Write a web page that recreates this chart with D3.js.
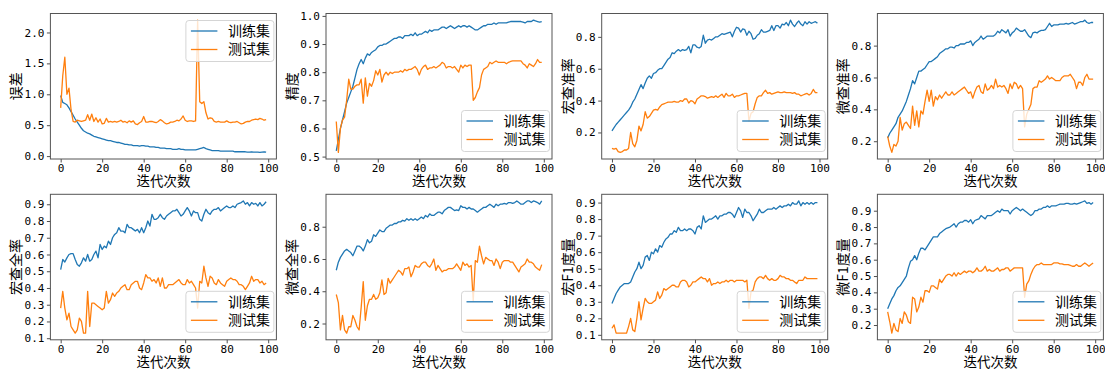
<!DOCTYPE html>
<html>
<head>
<meta charset="utf-8">
<script src="https://cdn.jsdelivr.net/npm/d3@7"></script>
<style>
  body { margin: 0; background: #fff; }
  svg { display: block; }
</style>
</head>
<body>
<div id="chart"></div>
<script>
// epochs 0..99
const epochs = d3.range(100);

const xTicks = [0, 20, 40, 60, 80, 100];
const seriesNames = ["训练集", "测试集"];
const xLabel = "迭代次数";

// 误差
const trainLoss = [0.98,0.87,0.85,0.83,0.78,0.72,0.66,0.60,0.55,0.50,0.45,0.41,0.39,0.37,0.36,0.34,0.32,0.31,0.30,0.29,
  0.28,0.27,0.26,0.25,0.25,0.24,0.23,0.22,0.22,0.21,0.20,0.19,0.19,0.18,0.18,0.17,0.17,0.17,0.16,0.17,
  0.17,0.16,0.16,0.15,0.15,0.15,0.14,0.14,0.13,0.13,0.13,0.12,0.12,0.12,0.11,0.11,0.11,0.12,0.11,0.11,
  0.10,0.10,0.10,0.10,0.10,0.10,0.11,0.12,0.13,0.14,0.12,0.11,0.10,0.09,0.09,0.09,0.09,0.08,0.08,0.08,
  0.08,0.08,0.08,0.08,0.07,0.07,0.07,0.07,0.07,0.07,0.065,0.065,0.07,0.065,0.065,0.065,0.06,0.065,0.07,0.065];
const testLoss = [0.78,1.30,1.60,1.00,1.10,0.75,0.56,0.55,0.58,0.57,0.56,0.57,0.58,0.67,0.58,0.68,0.56,0.62,0.55,0.60,
  0.52,0.53,0.61,0.55,0.56,0.55,0.56,0.55,0.56,0.58,0.55,0.56,0.54,0.57,0.55,0.57,0.52,0.51,0.54,0.56,
  0.64,0.55,0.55,0.56,0.56,0.55,0.54,0.56,0.59,0.57,0.54,0.52,0.53,0.55,0.55,0.56,0.58,0.57,0.60,0.65,
  0.58,0.56,0.57,0.57,0.56,0.57,2.20,0.88,0.85,0.88,0.70,0.60,0.62,0.61,0.56,0.55,0.56,0.55,0.55,0.55,
  0.57,0.55,0.54,0.55,0.55,0.56,0.54,0.52,0.53,0.55,0.56,0.56,0.58,0.59,0.60,0.59,0.61,0.60,0.58,0.59];

// 精度
const trainAcc = [0.52,0.56,0.60,0.63,0.66,0.69,0.71,0.73,0.75,0.78,0.81,0.83,0.845,0.83,0.85,0.865,0.86,0.87,0.875,0.88,
  0.89,0.895,0.895,0.90,0.90,0.905,0.91,0.915,0.92,0.92,0.925,0.925,0.92,0.93,0.93,0.93,0.935,0.93,0.94,0.93,
  0.935,0.935,0.94,0.945,0.94,0.95,0.945,0.95,0.95,0.95,0.955,0.96,0.96,0.955,0.96,0.965,0.96,0.955,0.96,0.965,
  0.96,0.965,0.965,0.96,0.965,0.96,0.955,0.95,0.95,0.955,0.96,0.965,0.965,0.97,0.97,0.97,0.975,0.97,0.975,0.975,
  0.975,0.975,0.975,0.978,0.98,0.98,0.98,0.98,0.98,0.98,0.978,0.975,0.98,0.98,0.98,0.985,0.982,0.98,0.978,0.98];
const testAcc = [0.625,0.515,0.60,0.63,0.64,0.70,0.775,0.74,0.74,0.75,0.755,0.755,0.775,0.69,0.78,0.715,0.76,0.75,0.77,0.805,
  0.79,0.81,0.765,0.79,0.80,0.79,0.80,0.795,0.80,0.80,0.80,0.805,0.80,0.81,0.805,0.81,0.81,0.815,0.82,0.81,
  0.79,0.81,0.82,0.825,0.81,0.815,0.815,0.82,0.815,0.82,0.825,0.835,0.83,0.815,0.82,0.82,0.815,0.82,0.81,0.80,
  0.825,0.815,0.825,0.82,0.825,0.825,0.70,0.71,0.73,0.745,0.79,0.81,0.815,0.82,0.835,0.83,0.835,0.84,0.835,0.835,
  0.835,0.835,0.83,0.835,0.838,0.84,0.84,0.84,0.84,0.84,0.83,0.825,0.815,0.83,0.825,0.82,0.83,0.845,0.835,0.835];

// 宏查准率
const trainMacroP = [0.21,0.23,0.25,0.265,0.28,0.295,0.31,0.325,0.34,0.36,0.39,0.41,0.44,0.47,0.50,0.475,0.51,0.54,0.555,0.54,
  0.57,0.575,0.59,0.60,0.60,0.62,0.64,0.66,0.67,0.70,0.695,0.71,0.72,0.71,0.72,0.715,0.72,0.74,0.70,0.75,
  0.75,0.735,0.73,0.74,0.81,0.76,0.78,0.785,0.78,0.79,0.80,0.80,0.81,0.82,0.815,0.82,0.825,0.83,0.80,0.835,
  0.86,0.855,0.83,0.85,0.845,0.81,0.835,0.82,0.785,0.79,0.81,0.82,0.845,0.83,0.83,0.835,0.84,0.87,0.84,0.87,
  0.87,0.855,0.88,0.875,0.89,0.87,0.905,0.88,0.865,0.885,0.90,0.88,0.87,0.895,0.88,0.895,0.885,0.89,0.895,0.886];
const testMacroP = [0.10,0.095,0.10,0.08,0.075,0.08,0.09,0.09,0.10,0.20,0.13,0.11,0.15,0.24,0.21,0.25,0.33,0.29,0.30,0.32,
  0.34,0.345,0.34,0.36,0.375,0.38,0.385,0.39,0.39,0.39,0.395,0.39,0.39,0.40,0.395,0.41,0.41,0.385,0.40,0.395,
  0.38,0.41,0.42,0.43,0.43,0.425,0.415,0.42,0.425,0.42,0.43,0.42,0.43,0.44,0.42,0.445,0.43,0.43,0.44,0.42,
  0.43,0.43,0.435,0.44,0.445,0.445,0.27,0.32,0.33,0.38,0.42,0.43,0.43,0.45,0.465,0.445,0.45,0.44,0.445,0.45,
  0.455,0.45,0.45,0.455,0.45,0.45,0.45,0.445,0.45,0.44,0.44,0.43,0.435,0.44,0.445,0.435,0.445,0.47,0.45,0.45];

// 微查准率
const trainMicroP = [0.22,0.25,0.27,0.29,0.31,0.35,0.37,0.39,0.42,0.45,0.49,0.53,0.58,0.56,0.60,0.64,0.64,0.65,0.66,0.68,
  0.70,0.70,0.71,0.72,0.73,0.75,0.76,0.77,0.78,0.78,0.79,0.79,0.785,0.80,0.80,0.81,0.81,0.81,0.82,0.82,
  0.83,0.80,0.82,0.83,0.84,0.86,0.84,0.85,0.86,0.86,0.86,0.86,0.87,0.89,0.88,0.90,0.89,0.88,0.90,0.86,
  0.88,0.89,0.91,0.90,0.89,0.89,0.90,0.88,0.86,0.85,0.88,0.885,0.88,0.89,0.895,0.895,0.90,0.92,0.94,0.92,
  0.93,0.93,0.93,0.935,0.935,0.935,0.94,0.935,0.94,0.945,0.935,0.94,0.945,0.95,0.95,0.96,0.945,0.94,0.945,0.945];
const testMicroP = [0.23,0.17,0.13,0.18,0.17,0.20,0.35,0.27,0.31,0.32,0.30,0.28,0.42,0.30,0.39,0.29,0.39,0.37,0.45,0.52,
  0.45,0.52,0.42,0.48,0.46,0.49,0.47,0.49,0.51,0.49,0.49,0.51,0.49,0.50,0.51,0.52,0.53,0.54,0.52,0.50,
  0.51,0.47,0.51,0.54,0.55,0.51,0.50,0.56,0.52,0.53,0.55,0.53,0.59,0.54,0.55,0.54,0.55,0.53,0.50,0.56,
  0.53,0.57,0.56,0.53,0.55,0.53,0.29,0.37,0.40,0.43,0.53,0.54,0.54,0.58,0.57,0.58,0.59,0.61,0.59,0.60,
  0.59,0.58,0.58,0.58,0.60,0.61,0.61,0.61,0.62,0.60,0.58,0.53,0.57,0.57,0.55,0.60,0.62,0.59,0.59,0.59];

// 宏查全率
const trainMacroR = [0.51,0.57,0.555,0.58,0.60,0.605,0.605,0.57,0.54,0.53,0.55,0.58,0.56,0.60,0.56,0.57,0.60,0.62,0.58,0.66,
  0.63,0.65,0.64,0.68,0.66,0.70,0.72,0.73,0.76,0.74,0.74,0.73,0.78,0.76,0.76,0.75,0.74,0.75,0.73,0.76,
  0.73,0.76,0.80,0.77,0.84,0.81,0.81,0.82,0.84,0.82,0.81,0.83,0.84,0.85,0.86,0.86,0.87,0.85,0.83,0.84,
  0.86,0.88,0.86,0.83,0.86,0.85,0.85,0.81,0.80,0.84,0.87,0.85,0.84,0.86,0.87,0.87,0.88,0.86,0.87,0.88,
  0.89,0.88,0.88,0.89,0.88,0.90,0.905,0.91,0.92,0.90,0.91,0.89,0.91,0.90,0.905,0.89,0.91,0.89,0.90,0.915];
const testMacroR = [0.28,0.38,0.28,0.21,0.25,0.17,0.15,0.13,0.15,0.22,0.20,0.13,0.13,0.38,0.17,0.31,0.31,0.30,0.29,0.28,
  0.27,0.28,0.38,0.31,0.33,0.37,0.35,0.37,0.38,0.40,0.41,0.42,0.39,0.39,0.42,0.43,0.44,0.44,0.40,0.39,
  0.43,0.48,0.46,0.46,0.44,0.45,0.43,0.46,0.41,0.46,0.40,0.40,0.42,0.42,0.42,0.43,0.44,0.45,0.43,0.42,
  0.42,0.45,0.43,0.44,0.42,0.40,0.28,0.44,0.43,0.53,0.46,0.41,0.47,0.46,0.43,0.42,0.45,0.43,0.42,0.41,
  0.44,0.45,0.46,0.45,0.45,0.44,0.42,0.42,0.41,0.39,0.41,0.43,0.47,0.44,0.45,0.45,0.43,0.44,0.42,0.43];

// 微查全率
const trainMicroR = [0.53,0.58,0.61,0.63,0.65,0.66,0.65,0.64,0.62,0.65,0.68,0.68,0.67,0.65,0.68,0.72,0.70,0.71,0.75,0.74,
  0.76,0.78,0.77,0.77,0.79,0.80,0.81,0.81,0.82,0.82,0.83,0.83,0.84,0.835,0.85,0.84,0.85,0.84,0.85,0.84,
  0.85,0.86,0.85,0.87,0.86,0.88,0.87,0.87,0.88,0.89,0.89,0.88,0.90,0.91,0.92,0.92,0.91,0.90,0.905,0.90,
  0.93,0.92,0.92,0.91,0.92,0.91,0.91,0.90,0.89,0.90,0.91,0.92,0.92,0.93,0.94,0.93,0.92,0.94,0.93,0.94,
  0.94,0.945,0.94,0.95,0.95,0.945,0.95,0.96,0.95,0.94,0.94,0.95,0.96,0.96,0.95,0.96,0.955,0.95,0.94,0.96];
const testMicroR = [0.38,0.33,0.16,0.25,0.16,0.14,0.18,0.18,0.25,0.22,0.18,0.16,0.30,0.46,0.22,0.31,0.35,0.35,0.38,0.35,
  0.36,0.39,0.47,0.38,0.39,0.48,0.45,0.47,0.49,0.51,0.53,0.52,0.50,0.54,0.54,0.55,0.49,0.52,0.56,0.55,
  0.55,0.57,0.58,0.58,0.56,0.55,0.57,0.60,0.53,0.56,0.54,0.52,0.53,0.53,0.54,0.54,0.54,0.55,0.57,0.55,
  0.53,0.58,0.56,0.57,0.55,0.56,0.34,0.59,0.58,0.68,0.62,0.57,0.61,0.60,0.59,0.59,0.56,0.60,0.58,0.54,
  0.58,0.59,0.59,0.59,0.58,0.58,0.56,0.54,0.52,0.55,0.56,0.57,0.60,0.58,0.58,0.57,0.55,0.54,0.53,0.565];

// 宏F1度量
const trainMacroF1 = [0.29,0.32,0.35,0.37,0.39,0.40,0.41,0.41,0.41,0.42,0.45,0.48,0.50,0.54,0.50,0.52,0.57,0.58,0.55,0.60,
  0.59,0.62,0.60,0.64,0.63,0.66,0.68,0.69,0.71,0.71,0.73,0.72,0.75,0.73,0.73,0.74,0.73,0.74,0.74,0.73,
  0.71,0.75,0.76,0.74,0.82,0.78,0.79,0.80,0.80,0.81,0.82,0.80,0.82,0.82,0.83,0.83,0.84,0.84,0.83,0.81,
  0.84,0.87,0.85,0.81,0.86,0.84,0.84,0.82,0.79,0.81,0.83,0.86,0.84,0.84,0.85,0.86,0.86,0.86,0.87,0.86,
  0.87,0.88,0.87,0.88,0.88,0.89,0.88,0.90,0.89,0.89,0.91,0.88,0.90,0.89,0.90,0.89,0.90,0.89,0.90,0.90];
const testMacroF1 = [0.14,0.16,0.11,0.11,0.11,0.11,0.11,0.11,0.15,0.20,0.13,0.12,0.20,0.30,0.19,0.26,0.32,0.30,0.29,0.29,
  0.30,0.31,0.36,0.32,0.34,0.38,0.37,0.38,0.39,0.40,0.40,0.39,0.39,0.42,0.43,0.43,0.42,0.39,0.40,0.42,
  0.42,0.43,0.44,0.45,0.44,0.44,0.42,0.44,0.40,0.41,0.41,0.42,0.41,0.42,0.42,0.43,0.42,0.43,0.43,0.42,
  0.43,0.43,0.43,0.43,0.42,0.43,0.26,0.36,0.37,0.42,0.44,0.45,0.45,0.44,0.46,0.44,0.43,0.44,0.43,0.43,
  0.44,0.46,0.45,0.45,0.44,0.44,0.43,0.43,0.42,0.41,0.43,0.43,0.43,0.45,0.44,0.44,0.44,0.44,0.44,0.44];

// 微F1度量
const trainMicroF1 = [0.30,0.33,0.36,0.38,0.41,0.43,0.44,0.46,0.48,0.50,0.55,0.59,0.60,0.625,0.60,0.64,0.67,0.67,0.66,0.68,
  0.70,0.72,0.74,0.74,0.74,0.76,0.77,0.78,0.79,0.795,0.80,0.81,0.82,0.80,0.82,0.83,0.83,0.84,0.84,0.83,
  0.845,0.82,0.84,0.845,0.85,0.87,0.86,0.85,0.87,0.87,0.87,0.88,0.89,0.90,0.89,0.91,0.90,0.90,0.90,0.88,
  0.90,0.91,0.92,0.91,0.90,0.91,0.90,0.89,0.88,0.87,0.88,0.90,0.90,0.91,0.91,0.92,0.92,0.93,0.92,0.93,
  0.93,0.93,0.935,0.94,0.94,0.94,0.945,0.945,0.94,0.94,0.945,0.94,0.945,0.95,0.955,0.96,0.945,0.95,0.94,0.95];
const testMicroF1 = [0.28,0.22,0.15,0.21,0.17,0.16,0.24,0.21,0.28,0.26,0.22,0.21,0.37,0.36,0.28,0.31,0.37,0.34,0.41,0.41,
  0.40,0.44,0.44,0.43,0.42,0.48,0.46,0.48,0.50,0.51,0.51,0.50,0.52,0.50,0.52,0.51,0.52,0.53,0.52,0.53,
  0.53,0.52,0.53,0.55,0.53,0.53,0.54,0.56,0.53,0.54,0.53,0.53,0.54,0.55,0.53,0.54,0.54,0.55,0.55,0.53,
  0.54,0.55,0.55,0.55,0.55,0.55,0.37,0.45,0.47,0.51,0.54,0.56,0.57,0.57,0.58,0.57,0.57,0.57,0.57,0.57,
  0.58,0.58,0.58,0.575,0.575,0.57,0.57,0.57,0.565,0.56,0.56,0.57,0.56,0.56,0.57,0.58,0.57,0.56,0.57,0.58];

// y tick values per panel
const yTicksLoss = [0.0, 0.5, 1.0, 1.5, 2.0];
const yTicksAcc = [0.5, 0.6, 0.7, 0.8, 0.9, 1.0];
const yTicksEven = [0.2, 0.4, 0.6, 0.8];
const yTicksTenth = [0.1, 0.2, 0.3, 0.4, 0.5, 0.6, 0.7, 0.8, 0.9];
const yTicksF1Micro = [0.2, 0.3, 0.4, 0.5, 0.6, 0.7, 0.8, 0.9];

const panels = [
  { label: "误差", train: trainLoss, test: testLoss, ticks: yTicksLoss, legend: "upper" },
  { label: "精度", train: trainAcc, test: testAcc, ticks: yTicksAcc, legend: "lower" },
  { label: "宏查准率", train: trainMacroP, test: testMacroP, ticks: yTicksEven, legend: "lower" },
  { label: "微查准率", train: trainMicroP, test: testMicroP, ticks: yTicksEven, legend: "lower" },
  { label: "宏查全率", train: trainMacroR, test: testMacroR, ticks: yTicksTenth, legend: "lower" },
  { label: "微查全率", train: trainMicroR, test: testMicroR, ticks: yTicksEven, legend: "lower" },
  { label: "宏F1度量", train: trainMacroF1, test: testMacroF1, ticks: yTicksTenth, legend: "lower" },
  { label: "微F1度量", train: trainMicroF1, test: testMicroF1, ticks: yTicksF1Micro, legend: "lower" }
];

const width = 1105, height = 369;
const colLeft = [50.4, 326, 601.7, 877.4];
const rowTop = [13.5, 194.3];
const axW = 226, axH = 145.5;
const colors = ["#1f77b4", "#ff7f0e"];
const cjkFont = "'Noto Sans CJK SC', 'Noto Sans', sans-serif";
const tickFont = "'DejaVu Sans Mono', 'Liberation Mono', monospace";

const svg = d3.select("#chart")
  .append("svg")
  .attr("width", width)
  .attr("height", height);

panels.forEach((p, i) => {
  const left = colLeft[i % 4], top = rowTop[Math.floor(i / 4)];
  const g = svg.append("g");

  const x = d3.scaleLinear().domain([-4.95, 103.95]).range([left, left + axW]);
  const all = p.train.concat(p.test);
  const lo = d3.min(all), hi = d3.max(all), pad = (hi - lo) * 0.05;
  const y = d3.scaleLinear().domain([lo - pad, hi + pad]).range([top + axH, top]);

  // lines
  const line = d3.line().x((d, j) => x(epochs[j])).y(d => y(d));
  [p.train, p.test].forEach((s, k) => {
    g.append("path")
      .attr("d", line(s))
      .attr("fill", "none")
      .attr("stroke", colors[k])
      .attr("stroke-width", 1.3)
      .attr("stroke-linejoin", "round");
  });

  // axes
  const xAxis = g.append("g")
    .attr("transform", `translate(0,${top + axH})`)
    .call(d3.axisBottom(x).tickValues(xTicks).tickFormat(d3.format("d")).tickSize(3.5).tickPadding(1.5));
  const yAxis = g.append("g")
    .attr("transform", `translate(${left},0)`)
    .call(d3.axisLeft(y).tickValues(p.ticks).tickFormat(d3.format(".1f")).tickSize(3.5).tickPadding(2.5));
  [xAxis, yAxis].forEach(a => {
    a.select(".domain").remove();
    a.selectAll(".tick line").attr("stroke", "#222").attr("stroke-width", 0.8);
    a.selectAll(".tick text").attr("fill", "#000").style("font-family", tickFont).style("font-size", "11px");
  });

  // frame
  g.append("rect")
    .attr("x", left).attr("y", top)
    .attr("width", axW).attr("height", axH)
    .attr("fill", "none")
    .attr("stroke", "#555")
    .attr("stroke-width", 1);

  // axis labels
  g.append("text")
    .attr("x", left + axW / 2)
    .attr("y", top + axH + 22.5)
    .attr("dy", "0.35em")
    .attr("text-anchor", "middle")
    .style("font-family", cjkFont).style("font-size", "13.5px")
    .attr("fill", "#000")
    .text(xLabel);

  const bb = yAxis.node().getBBox();
  const ly = top + axH / 2;
  const lx = left + bb.x - 8;
  g.append("text")
    .attr("transform", `translate(${lx},${ly}) rotate(-90)`)
    .attr("dy", "0.35em")
    .attr("text-anchor", "middle")
    .style("font-family", cjkFont).style("font-size", "14px")
    .attr("fill", "#000")
    .text(p.label);

  // legend
  const lw = 88, lh = 41;
  const lxBox = left + axW - 2.5 - lw;
  const lyBox = p.legend === "upper" ? top + 7 : top + axH - 7.5 - lh;
  const lg = g.append("g").attr("transform", `translate(${lxBox},${lyBox})`);
  lg.append("rect")
    .attr("width", lw).attr("height", lh)
    .attr("rx", 3)
    .attr("fill", "#fff").attr("fill-opacity", 0.8)
    .attr("stroke", "#d5d5d5");
  seriesNames.forEach((name, k) => {
    const yy = 10.5 + k * 18.5;
    lg.append("line")
      .attr("x1", 5).attr("x2", 31.5)
      .attr("y1", yy).attr("y2", yy)
      .attr("stroke", colors[k]).attr("stroke-width", 1.3);
    lg.append("text")
      .attr("x", 42).attr("y", yy)
      .attr("dy", "0.35em")
      .style("font-family", cjkFont).style("font-size", "14px")
      .attr("fill", "#000")
      .text(name);
  });
});
</script>
</body>
</html>
